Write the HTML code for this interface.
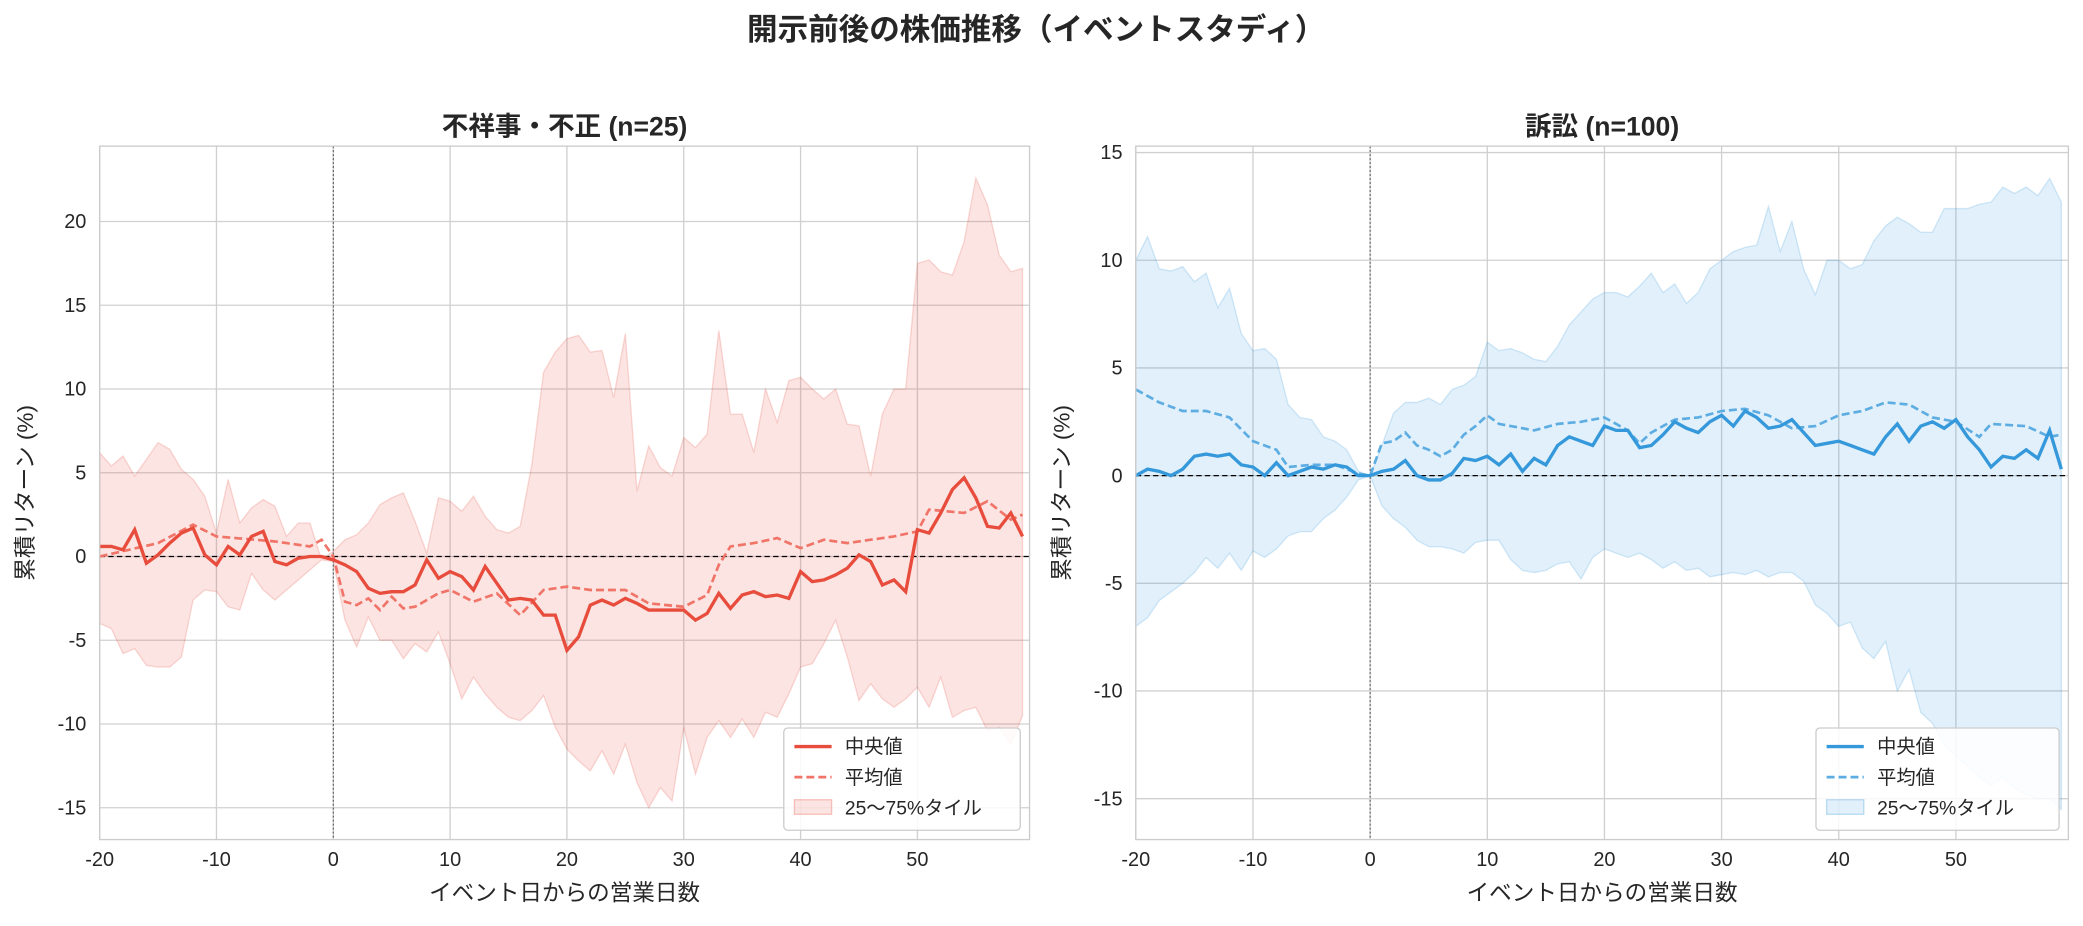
<!DOCTYPE html>
<html><head><meta charset="utf-8">
<style>
html,body{margin:0;padding:0;background:#fff;}
svg text{font-family:"Liberation Sans","Noto Sans CJK JP",sans-serif;fill:#262626;}
</style></head>
<body>
<svg id="s" width="2083" height="921" viewBox="0 0 1568 693.3" xmlns="http://www.w3.org/2000/svg">
<rect width="1568" height="694" fill="#fff"/>
<text x="780" y="30" font-size="23" font-weight="bold" text-anchor="middle">開示前後の株価推移（イベントスタディ）</text>
</svg>
<script>
const S=document.getElementById('s');const NS='http://www.w3.org/2000/svg';
function el(t,a,txt){const e=document.createElementNS(NS,t);for(const k in a)e.setAttribute(k,a[k]);if(txt!==undefined)e.textContent=txt;S.appendChild(e);return e;}
function interp(pts){const m={};const ks=Object.keys(pts).map(Number).sort((a,b)=>a-b);for(let x=-20;x<=59;x++){let i=0;while(i<ks.length-1&&ks[i+1]<x)i++;let a=ks[i],b=ks[Math.min(i+1,ks.length-1)];if(x<=a){m[x]=pts[a];continue;}let t=(x-a)/(b-a||1);m[x]=pts[a]+(pts[b]-pts[a])*t;}return m;}
function arr(s){const o={};s.split(',').forEach(p=>{const [k,v]=p.split(':');o[+k]=+v;});return interp(o);}
function panel(c){
 const X=v=>c.x0+(v-c.xmin)/(c.xmax-c.xmin)*(c.x1-c.x0);
 const Y=v=>c.y1-(v-c.ymin)/(c.ymax-c.ymin)*(c.y1-c.y0);
 for(let t=-20;t<=50;t+=10){el('line',{x1:X(t),x2:X(t),y1:c.y0,y2:c.y1,stroke:'#d0d0d0','stroke-width':1});
  el('text',{x:X(t),y:c.y1+20,'font-size':15,'text-anchor':'middle'},t);}
 c.yt.forEach(t=>{el('line',{x1:c.x0,x2:c.x1,y1:Y(t),y2:Y(t),stroke:'#d0d0d0','stroke-width':1});
  el('text',{x:c.x0-10,y:Y(t)+5,'font-size':15,'text-anchor':'end'},t);});
 const up=arr(c.up),lo=arr(c.lo),md=arr(c.md),mn=arr(c.mn);
 let d='';for(let x=-20;x<=59;x++)d+=(x==-20?'M':'L')+X(x)+','+Y(up[x]);
 for(let x=59;x>=-20;x--)d+='L'+X(x)+','+Y(lo[x]);
 el('path',{d:d+'Z',fill:c.col,'fill-opacity':0.15,stroke:c.col,'stroke-opacity':0.2});
 el('line',{x1:c.x0,x2:c.x1,y1:Y(0),y2:Y(0),stroke:'#000','stroke-width':1,'stroke-dasharray':'4,2.5'});
 el('line',{x1:X(0),x2:X(0),y1:c.y0,y2:c.y1,stroke:'#555','stroke-width':0.8,'stroke-dasharray':'1.5,1.5'});
 let p='';for(let x=-20;x<=59;x++)p+=X(x)+','+Y(mn[x])+' ';
 el('polyline',{points:p,fill:'none',stroke:c.col2,'stroke-width':2,'stroke-dasharray':'6,3'});
 p='';for(let x=-20;x<=59;x++)p+=X(x)+','+Y(md[x])+' ';
 el('polyline',{points:p,fill:'none',stroke:c.col,'stroke-width':2.5});
 el('rect',{x:c.x0,y:c.y0,width:c.x1-c.x0,height:c.y1-c.y0,fill:'none',stroke:'#ccc','stroke-width':1});
 el('text',{x:(c.x0+c.x1)/2,y:c.y0-8,'font-size':20,'font-weight':'bold','text-anchor':'middle'},c.title);
 el('text',{x:(c.x0+c.x1)/2,y:c.y1+46,'font-size':17,'text-anchor':'middle'},'イベント日からの営業日数');
 const cy=(c.y0+c.y1)/2,lxx=c.x0-50;el('text',{x:lxx,y:cy,'font-size':17,'text-anchor':'middle',transform:`rotate(-90 ${lxx} ${cy})`},'累積リターン (%)');
 const lx=c.lx,ly=548;
 el('rect',{x:lx,y:ly,width:c.lw,height:77,fill:'#fff','fill-opacity':0.85,stroke:'#ccc',rx:3});
 el('line',{x1:lx+8,x2:lx+36,y1:ly+14,y2:ly+14,stroke:c.col,'stroke-width':2.5});
 el('text',{x:lx+46,y:ly+19,'font-size':14.5},'中央値');
 el('line',{x1:lx+8,x2:lx+36,y1:ly+37,y2:ly+37,stroke:c.col2,'stroke-width':2,'stroke-dasharray':'6,3'});
 el('text',{x:lx+46,y:ly+42,'font-size':14.5},'平均値');
 el('rect',{x:lx+8,y:ly+54,width:28,height:11,fill:c.col,'fill-opacity':0.15,stroke:c.col,'stroke-opacity':0.3});
 el('text',{x:lx+46,y:ly+65,'font-size':14.5},'25〜75%タイル');
}
panel({x0:75,x1:775,y0:110,y1:632,xmin:-20,xmax:59.6,ymin:-16.9,ymax:24.5,yt:[-15,-10,-5,0,5,10,15,20],
 col:'#e74c3c',col2:'#f07468',title:'不祥事・不正 (n=25)',lx:590,lw:178,
 md:'-20:0.6,-19:0.6,-18:0.4,-17:1.6,-16:-0.4,-15:0.1,-14:0.8,-13:1.4,-12:1.7,-11:0.1,-10:-0.5,-9:0.6,-8:0.1,-7:1.2,-6:1.5,-5:-0.3,-4:-0.5,-3:-0.1,-2:0,-1:0,0:-0.2,1:-0.5,2:-0.9,3:-1.9,4:-2.2,5:-2.1,6:-2.1,7:-1.7,8:-0.2,9:-1.3,10:-0.9,11:-1.2,12:-2.0,13:-0.6,14:-1.6,15:-2.6,16:-2.5,17:-2.6,18:-3.5,19:-3.5,20:-5.6,21:-4.8,22:-2.9,23:-2.6,24:-2.9,25:-2.5,26:-2.8,27:-3.2,28:-3.2,29:-3.2,30:-3.2,31:-3.8,32:-3.4,33:-2.2,34:-3.1,35:-2.3,36:-2.1,37:-2.4,38:-2.3,39:-2.5,40:-0.9,41:-1.5,42:-1.4,43:-1.1,44:-0.7,45:0.1,46:-0.3,47:-1.7,48:-1.4,49:-2.1,50:1.6,51:1.4,52:2.6,53:4.0,54:4.7,55:3.5,56:1.8,57:1.7,58:2.6,59:1.2',
 mn:'-20:0,-15:0.8,-12:1.9,-10:1.2,-5:0.9,-2:0.6,-1:1.0,0:0,1:-2.7,2:-2.9,3:-2.5,4:-3.2,5:-2.4,6:-3.1,7:-3.0,8:-2.6,9:-2.2,10:-2.0,12:-2.7,14:-2.2,16:-3.5,18:-2.0,20:-1.8,22:-2.0,25:-2.0,27:-2.8,30:-3.0,32:-2.3,33:-0.5,34:0.6,36:0.8,38:1.1,40:0.5,42:1.0,44:0.8,46:1.0,48:1.2,50:1.5,51:2.8,54:2.6,56:3.3,58:2.2,59:2.5',
 up:'-20:6.2,-19:5.4,-18:6.0,-17:4.8,-16:5.8,-15:6.8,-14:6.4,-13:5.2,-12:4.6,-11:3.6,-10:1.4,-9:4.6,-8:2.0,-7:2.9,-6:3.4,-5:3.0,-4:1.2,-3:2.0,-2:2.0,-1:-0.2,0:0.3,1:1.0,2:1.3,3:2.0,4:3.1,5:3.5,6:3.8,7:2.1,8:0.2,9:3.5,10:3.3,11:2.7,12:3.6,13:2.4,14:1.6,15:1.4,16:1.8,17:5.5,18:11.0,19:12.2,20:13.0,21:13.2,22:12.2,23:12.3,24:9.5,25:13.3,26:3.9,27:6.6,28:5.3,29:4.8,30:7.1,31:6.5,32:7.3,33:13.5,34:8.5,35:8.5,36:6.2,37:10.0,38:8.0,39:10.5,40:10.7,41:10.0,42:9.4,43:10.0,44:7.9,45:7.8,46:4.8,47:8.5,48:10.0,49:10.0,50:17.5,51:17.7,52:17.0,53:16.8,54:18.8,55:22.6,56:21.0,57:18.0,58:17.0,59:17.2',
 lo:'-20:-4.0,-19:-4.3,-18:-5.8,-17:-5.5,-16:-6.5,-15:-6.6,-14:-6.6,-13:-6.0,-12:-2.6,-11:-2.0,-10:-2.1,-9:-3.0,-8:-3.2,-7:-1.0,-6:-2.0,-5:-2.6,-4:-2.0,-3:-1.4,-2:-0.8,-1:-0.2,0:-0.3,1:-3.8,2:-5.4,3:-3.6,4:-5.0,5:-5.0,6:-6.1,7:-5.2,8:-5.7,9:-4.5,10:-6.4,11:-8.5,12:-7.2,13:-8.2,14:-9.0,15:-9.6,16:-9.8,17:-9.2,18:-8.3,19:-10.2,20:-11.5,21:-12.2,22:-12.8,23:-11.6,24:-13.0,25:-11.2,26:-13.5,27:-15.0,28:-13.8,29:-14.6,30:-10.2,31:-13.0,32:-10.8,33:-9.8,34:-10.8,35:-9.7,36:-10.8,37:-9.3,38:-9.6,39:-8.2,40:-6.6,41:-6.4,42:-5.2,43:-3.8,44:-6.0,45:-8.6,46:-7.6,47:-8.5,48:-9.0,49:-8.5,50:-7.8,51:-9.0,52:-7.2,53:-9.6,54:-9.2,55:-9.0,56:-10.4,57:-10.2,58:-11.2,59:-9.5'});
panel({x0:855,x1:1557,y0:110,y1:632,xmin:-20,xmax:59.6,ymin:-16.9,ymax:15.3,yt:[-15,-10,-5,0,5,10,15],
 col:'#3498db',col2:'#5dade2',title:'訴訟 (n=100)',lx:1367,lw:183,
 md:'-20:0,-19:0.3,-18:0.2,-17:0,-16:0.3,-15:0.9,-14:1.0,-13:0.9,-12:1.0,-11:0.5,-10:0.4,-9:0,-8:0.6,-7:0,-6:0.2,-5:0.4,-4:0.3,-3:0.5,-2:0.4,-1:0,0:0,1:0.2,2:0.3,3:0.7,4:0,5:-0.2,6:-0.2,7:0.1,8:0.8,9:0.7,10:0.9,11:0.5,12:1.0,13:0.2,14:0.8,15:0.5,16:1.4,17:1.8,18:1.6,19:1.4,20:2.3,21:2.1,22:2.1,23:1.3,24:1.4,25:1.9,26:2.5,27:2.2,28:2.0,29:2.5,30:2.8,31:2.3,32:3.0,33:2.7,34:2.2,35:2.3,36:2.6,37:2.0,38:1.4,39:1.5,40:1.6,41:1.4,42:1.2,43:1.0,44:1.8,45:2.4,46:1.6,47:2.3,48:2.5,49:2.2,50:2.6,51:1.8,52:1.2,53:0.4,54:0.9,55:0.8,56:1.2,57:0.8,58:2.1,59:0.3',
 mn:'-20:4.0,-18:3.4,-16:3.0,-14:3.0,-12:2.7,-10:1.6,-8:1.2,-7:0.4,-5:0.5,-3:0.5,-1:0.1,0:0,1:1.5,2:1.6,3:2.0,4:1.4,5:1.2,6:0.9,7:1.2,8:1.9,9:2.3,10:2.8,11:2.4,12:2.3,14:2.1,16:2.4,18:2.5,20:2.7,22:2.1,23:1.5,24:2.0,26:2.6,28:2.7,30:3.0,32:3.1,34:2.8,36:2.2,38:2.3,40:2.8,42:3.0,44:3.4,46:3.3,48:2.7,50:2.5,52:1.8,53:2.4,56:2.3,58:1.8,59:1.9',
 up:'-20:10.0,-19:11.1,-18:9.6,-17:9.5,-16:9.7,-15:9.0,-14:9.4,-13:7.8,-12:8.7,-11:6.6,-10:5.8,-9:5.9,-8:5.4,-7:3.3,-6:2.7,-5:2.6,-4:1.8,-3:1.6,-2:1.2,-1:0.2,0:0,1:1.4,2:2.9,3:3.4,4:3.4,5:3.6,6:3.3,7:4.0,8:4.2,9:4.6,10:6.2,11:5.8,12:5.9,13:5.7,14:5.4,15:5.3,16:6.0,17:7.0,18:7.6,19:8.2,20:8.5,21:8.5,22:8.3,23:8.8,24:9.4,25:8.5,26:8.9,27:8.0,28:8.5,29:9.6,30:10.0,31:10.4,32:10.6,33:10.7,34:12.5,35:10.4,36:11.8,37:9.6,38:8.4,39:10.0,40:10.0,41:9.6,42:9.8,43:10.9,44:11.6,45:12.0,46:11.7,47:11.3,48:11.3,49:12.4,50:12.4,51:12.4,52:12.6,53:12.7,54:13.4,55:13.1,56:13.4,57:13.0,58:13.8,59:12.7',
 lo:'-20:-7.0,-19:-6.6,-18:-5.8,-17:-5.4,-16:-5.0,-15:-4.5,-14:-3.8,-13:-4.3,-12:-3.6,-11:-4.4,-10:-3.5,-9:-3.8,-8:-3.4,-7:-2.8,-6:-2.6,-5:-2.6,-4:-2.0,-3:-1.6,-2:-1.0,-1:-0.2,0:0,1:-1.4,2:-2.0,3:-2.4,4:-3.0,5:-3.3,6:-3.3,7:-3.4,8:-3.6,9:-3.1,10:-3.0,11:-3.0,12:-3.9,13:-4.4,14:-4.5,15:-4.4,16:-4.1,17:-4.0,18:-4.8,19:-3.8,20:-3.4,21:-3.6,22:-3.8,23:-3.6,24:-3.9,25:-4.3,26:-4.0,27:-4.4,28:-4.3,29:-4.7,30:-4.6,31:-4.5,32:-4.6,33:-4.4,34:-4.7,35:-4.5,36:-4.5,37:-4.9,38:-6.0,39:-6.4,40:-7.0,41:-6.8,42:-8.0,43:-8.5,44:-7.7,45:-10.0,46:-9.0,47:-11.0,48:-11.5,49:-12.5,50:-13.0,51:-13.5,52:-14.0,53:-14.4,54:-14.0,55:-14.5,56:-14.8,57:-15.0,58:-15.0,59:-15.5'});
</script>
</body></html>
